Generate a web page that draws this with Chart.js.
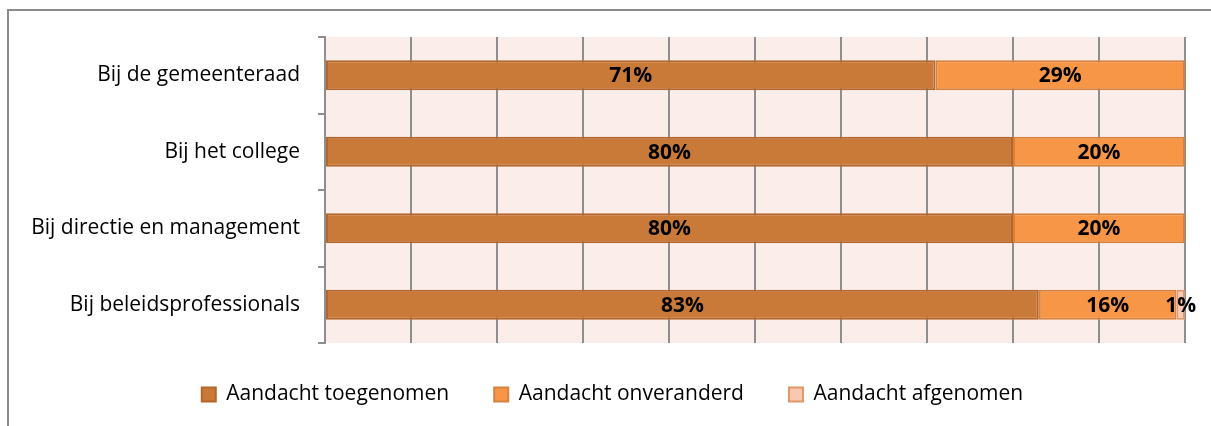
<!DOCTYPE html>
<html lang="nl">
<head>
<meta charset="UTF-8">
<title>Aandacht</title>
<script src="https://cdn.jsdelivr.net/npm/chart.js@4.4.0/dist/chart.umd.min.js"></script>
<style>
  html, body { margin: 0; padding: 0; background: #fff; }
  #wrap { position: relative; width: 1211px; height: 426px; overflow: hidden; }
  #frame { position: absolute; left: 7px; top: 9px; width: 1300px; height: 500px;
           border-left: 2px solid #8a8a8a; border-top: 2px solid #8a8a8a; }
  canvas { position: absolute; left: 0; top: 0; }
</style>
</head>
<body>
<div id="wrap">
  <div id="frame"></div>
  <canvas id="chart" width="1211" height="426"></canvas>
</div>
<script>
// data
const categories = ['Bij de gemeenteraad', 'Bij het college', 'Bij directie en management', 'Bij beleidsprofessionals'];
const seriesNames = ['Aandacht toegenomen', 'Aandacht onveranderd', 'Aandacht afgenomen'];
const toegenomen = [71, 80, 80, 83];
const onveranderd = [29, 20, 20, 16];
const afgenomen = [0, 0, 0, 1];

const FONT = 'Open Sans';
const GRID = '#8e8e8e';

// light pink plot background
const plotBg = {
  id: 'plotBg',
  beforeDraw(chart) {
    const a = chart.chartArea;
    const ctx = chart.ctx;
    ctx.save();
    ctx.fillStyle = '#fbede9';
    ctx.fillRect(a.left, a.top, a.right - a.left, a.bottom - a.top);
    ctx.restore();
  }
};

// nudge the legend a bit right and up, like the original
const legendShift = {
  id: 'legendShift',
  afterLayout(chart) {
    const lg = chart.legend;
    lg.left += 20; lg.right += 20;
    lg.top -= 4; lg.bottom -= 4;
  }
};

// percentage labels in the middle of each segment
const barLabels = {
  id: 'barLabels',
  afterDatasetsDraw(chart) {
    const ctx = chart.ctx;
    ctx.save();
    ctx.font = 'bold 21px ' + FONT;
    ctx.fillStyle = '#000';
    ctx.textAlign = 'center';
    ctx.textBaseline = 'middle';
    chart.data.datasets.forEach((ds, i) => {
      chart.getDatasetMeta(i).data.forEach((bar, j) => {
        const v = ds.data[j];
        if (!v) return;
        const p = bar.getProps(['x', 'y', 'base'], true);
        ctx.fillText(v + '%', (p.x + p.base) / 2, p.y + 1);
      });
    });
    ctx.restore();
  }
};

const ctx = document.getElementById('chart').getContext('2d');
new Chart(ctx, {
  type: 'bar',
  data: {
    labels: categories,
    datasets: [
      { label: seriesNames[0], data: toegenomen, backgroundColor: '#c97a39', borderColor: '#b4662c' },
      { label: seriesNames[1], data: onveranderd, backgroundColor: '#f79646', borderColor: '#d6823e' },
      { label: seriesNames[2], data: afgenomen, backgroundColor: '#fac8b0', borderColor: '#e0956a' }
    ]
  },
  options: {
    indexAxis: 'y',
    responsive: false,
    animation: false,
    datasets: {
      bar: { borderWidth: 2, borderSkipped: false, categoryPercentage: 1, barPercentage: 0.39 }
    },
    layout: { padding: { top: 37, right: 26, left: 0, bottom: 7 } },
    scales: {
      x: {
        stacked: true,
        min: 0,
        max: 100,
        ticks: { display: false, stepSize: 10 },
        grid: { color: GRID, lineWidth: 2, drawTicks: false },
        border: { display: false },
        afterFit: s => { s.height = 0; }
      },
      y: {
        stacked: true,
        ticks: { color: '#000', font: { family: FONT, size: 21 }, padding: 18 },
        grid: { drawOnChartArea: false, color: GRID, lineWidth: 2, tickLength: 7 },
        border: { color: GRID, width: 2 },
        afterFit: s => { s.width = 325; }
      }
    },
    plugins: {
      legend: {
        position: 'bottom',
        labels: {
          color: '#000',
          font: { family: FONT, size: 21 },
          boxWidth: 14,
          boxHeight: 14,
          padding: 45
        }
      },
      tooltip: { enabled: false }
    }
  },
  plugins: [plotBg, legendShift, barLabels]
});
</script>
</body>
</html>
